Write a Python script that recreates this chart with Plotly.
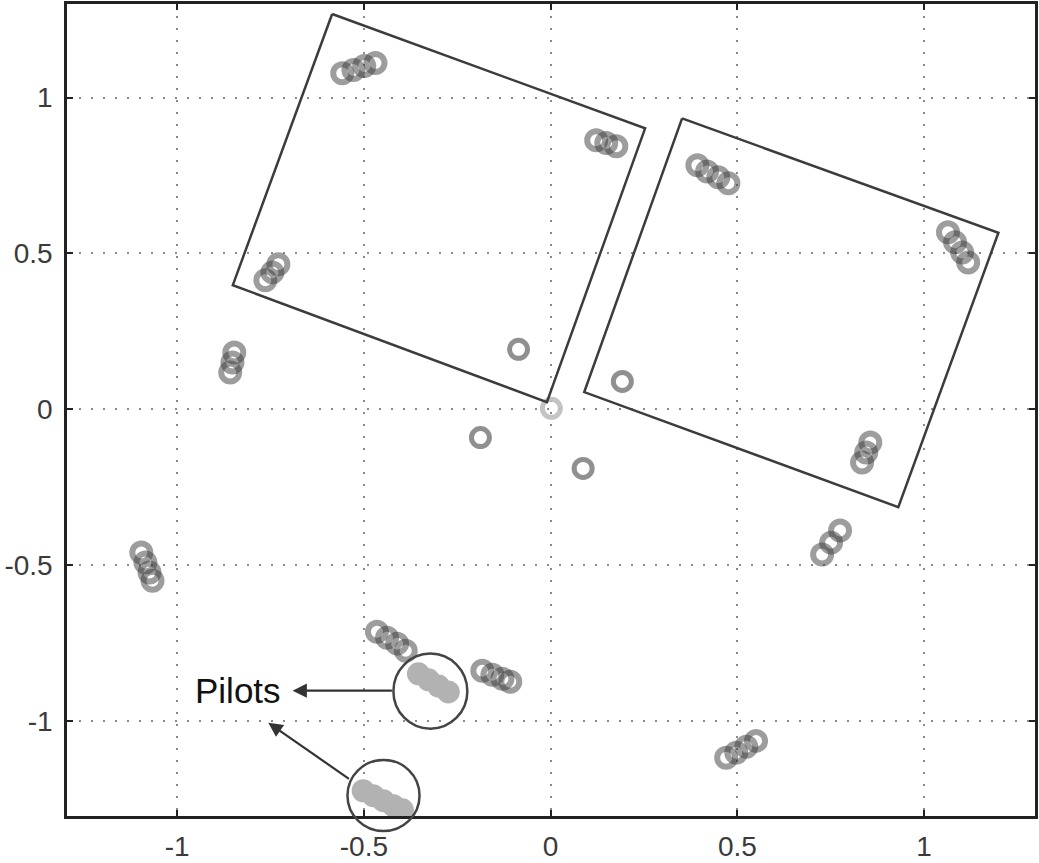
import plotly.graph_objects as go

# ---- axes ----
x_range = [-1.295, 1.297]
y_range = [-1.305, 1.30]
tick_vals = [-1, -0.5, 0, 0.5, 1]
tick_text = ["-1", "-0.5", "0", "0.5", "1"]

# ---- data symbol clusters (received constellation points) ----
cluster_x = [-0.558, -0.528, -0.499, -0.469,
             0.122, 0.149, 0.176,
             -0.764, -0.745, -0.729,
             -0.847, -0.852, -0.858,
             0.393, 0.419, 0.449, 0.476,
             1.064, 1.083, 1.102, 1.118,
             0.856, 0.845, 0.834,
             0.775, 0.751, 0.727,
             -1.096, -1.085, -1.074, -1.066,
             -0.465, -0.438, -0.411, -0.388,
             -0.183, -0.156, -0.129, -0.108,
             0.470, 0.497, 0.524, 0.550]
cluster_y = [1.078, 1.088, 1.101, 1.111,
             0.863, 0.854, 0.844,
             0.414, 0.439, 0.465,
             0.182, 0.150, 0.118,
             0.783, 0.763, 0.744, 0.725,
             0.568, 0.536, 0.503, 0.471,
             -0.107, -0.139, -0.171,
             -0.389, -0.428, -0.466,
             -0.460, -0.492, -0.524, -0.550,
             -0.714, -0.733, -0.752, -0.775,
             -0.839, -0.852, -0.865, -0.874,
             -1.118, -1.102, -1.083, -1.064]

# ---- isolated single points ----
ring_x = [-0.086, 0.192, -0.188, 0.087]
ring_y = [0.192, 0.089, -0.091, -0.190]
origin_x = [0.002]
origin_y = [0.003]

# ---- pilots ----
pilot_x = [-0.354, -0.327, -0.300, -0.274,
           -0.502, -0.475, -0.448, -0.421, -0.397]
pilot_y = [-0.849, -0.868, -0.888, -0.907,
           -1.224, -1.240, -1.256, -1.272, -1.285]

# ---- rotated boxes (corner points) ----
box1_x = [-0.585, 0.253, -0.010, -0.851, -0.585]
box1_y = [1.268, 0.901, 0.023, 0.398, 1.268]
box2_x = [0.352, 1.199, 0.931, 0.090, 0.352]
box2_y = [0.933, 0.566, -0.314, 0.055, 0.933]

# ---- pilot marker circles (x0, x1, y0, y1) ----
circle1 = [-0.421, -0.223, -1.025, -0.784]
circle2 = [-0.544, -0.351, -1.353, -1.125]

# ---- label / arrows ----
label_text = "Pilots"
label_pos = [-0.836, -0.903]
arrow1 = [-0.691, -0.903, -0.421, -0.903]   # tip x, tip y, tail x, tail y
arrow2 = [-0.756, -1.006, -0.536, -1.189]

fig = go.Figure()

fig.add_trace(go.Scatter(
    x=cluster_x, y=cluster_y, mode="markers",
    marker=dict(symbol="circle-open", size=18, color="rgba(60,60,60,0.5)",
                line=dict(width=6)),
    hoverinfo="skip"))
fig.add_trace(go.Scatter(
    x=ring_x, y=ring_y, mode="markers",
    marker=dict(symbol="circle-open", size=18, color="rgba(125,125,125,0.85)",
                line=dict(width=5)),
    hoverinfo="skip"))
fig.add_trace(go.Scatter(
    x=origin_x, y=origin_y, mode="markers",
    marker=dict(symbol="circle-open", size=18, color="rgba(190,190,190,0.9)",
                line=dict(width=5)),
    hoverinfo="skip"))
fig.add_trace(go.Scatter(
    x=pilot_x, y=pilot_y, mode="markers",
    marker=dict(symbol="circle", size=23, color="rgb(178,178,178)",
                line=dict(width=0)),
    hoverinfo="skip"))

for bx, by in [(box1_x, box1_y), (box2_x, box2_y)]:
    fig.add_trace(go.Scatter(
        x=bx, y=by, mode="lines",
        line=dict(color="#3c3c3c", width=2.5),
        hoverinfo="skip"))

# circle 1 in data coordinates
fig.add_shape(type="circle", xref="x", yref="y",
              x0=circle1[0], x1=circle1[1], y0=circle1[2], y1=circle1[3],
              line=dict(color="#444", width=2.5))


# circle 2 extends below the axis: use domain coordinates derived from axis ranges
def fx(v):
    return (v - x_range[0]) / (x_range[1] - x_range[0])


def fy(v):
    return (v - y_range[0]) / (y_range[1] - y_range[0])


fig.add_shape(type="circle", xref="x domain", yref="y domain",
              x0=fx(circle2[0]), x1=fx(circle2[1]),
              y0=fy(circle2[2]), y1=fy(circle2[3]),
              line=dict(color="#444", width=2.5))

for a in (arrow1, arrow2):
    fig.add_annotation(x=a[0], y=a[1], ax=a[2], ay=a[3],
                       xref="x", yref="y", axref="x", ayref="y",
                       text="", showarrow=True, arrowhead=2,
                       arrowsize=1.3, arrowwidth=2.2, arrowcolor="#333")

fig.add_annotation(x=label_pos[0], y=label_pos[1], xref="x", yref="y",
                   text=label_text, showarrow=False,
                   font=dict(family="Liberation Sans, Arial", size=35, color="#111"))

axis_common = dict(
    tickvals=tick_vals, ticktext=tick_text,
    ticks="inside", ticklen=6, tickcolor="#222", tickwidth=1.5,
    showline=True, linecolor="#222", linewidth=2.5, mirror="ticks",
    showgrid=True, gridcolor="#8a8a8a", gridwidth=1.5, griddash="2px,10px",
    zeroline=False, automargin=False,
    tickfont=dict(family="Liberation Sans, Arial", size=28, color="#3a3a3a"),
)

fig.update_xaxes(range=x_range, ticklabelstandoff=4, **axis_common)
fig.update_yaxes(range=y_range, ticklabelstandoff=6, **axis_common)

fig.update_layout(
    width=1039, height=863,
    margin=dict(l=67, r=4, t=4, b=47, autoexpand=False),
    plot_bgcolor="white", paper_bgcolor="white",
    showlegend=False,
)

fig.write_html("out.html",
               config={"displayModeBar": False},
               post_script="document.body.style.margin='0px';document.body.style.overflow='hidden';")
